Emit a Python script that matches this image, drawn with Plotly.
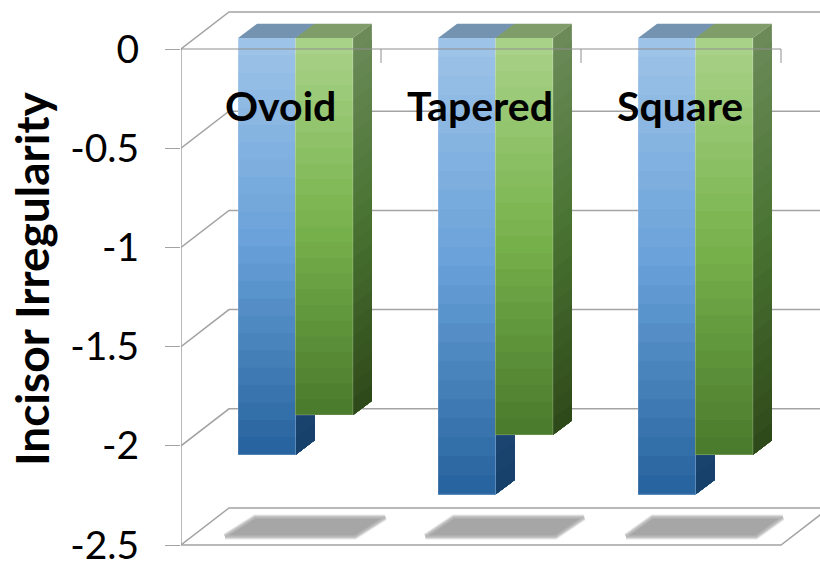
import plotly.graph_objects as go

# Incisor irregularity by arch form, two series per category
categories = ["Ovoid", "Tapered", "Square"]
series_a = [-2.1, -2.3, -2.3]
series_b = [-1.9, -2.0, -2.1]
y_ticks = [0, -0.5, -1, -1.5, -2, -2.5]
y_tick_labels = ["0", "-0.5", "-1", "-1.5", "-2", "-2.5"]

# Fake-3D projection, in axis units
PX_X, PX_Y = 200.0, 198.4
WALL_DX, WALL_DY = 48 / PX_X, 37 / PX_Y
BAR_DX, BAR_DY = 19 / PX_X, 14.3 / PX_Y
BAR_TOP = 11 / PX_Y
BAR_W = 57.4 / PX_X
GROUP_SHIFT = 14.5 / PX_X
BANDS = 24

BLUE = dict(front=["#9dc3e8", "#68a1d8", "#28649f"],
            side=["#3f6a96", "#2f5f8e", "#17406a"], top="#7493b1")
GREEN = dict(front=["#a8d288", "#78b24c", "#4b7b2d"],
             side=["#6b8a58", "#497332", "#2f4a1a"], top="#7e9d69")

GRID = "#a3a3a3"
FRONT = "#8f8f8f"


def mix(stops, t):
    # piecewise colour between three stops, mid stop at t = 0.5
    a, b, u = (stops[0], stops[1], t * 2) if t < 0.5 else (stops[1], stops[2], t * 2 - 1)
    pa = [int(a[i:i + 2], 16) for i in (1, 3, 5)]
    pb = [int(b[i:i + 2], 16) for i in (1, 3, 5)]
    return "rgb(%d,%d,%d)" % tuple(round(p + (q - p) * u) for p, q in zip(pa, pb))


fig = go.Figure()


def poly(xs, ys, color, line=None, width=0):
    fig.add_trace(go.Scatter(
        x=xs + xs[:1], y=ys + ys[:1], mode="lines", fill="toself", fillcolor=color,
        line=dict(color=line or color, width=width), hoverinfo="skip", showlegend=False,
    ))


def path(xs, ys, color, width):
    fig.add_trace(go.Scatter(
        x=xs, y=ys, mode="lines", line=dict(color=color, width=width),
        hoverinfo="skip", showlegend=False,
    ))


def bar3d(left, value, style):
    right = left + BAR_W
    y0 = BAR_TOP
    y1 = BAR_TOP + value
    # top face
    poly([left, left + BAR_DX, right + BAR_DX, right],
         [y0, y0 + BAR_DY, y0 + BAR_DY, y0], style["top"])
    # each band runs to the bar's foot, later bands paint over it
    for k in range(BANDS):
        t = k / (BANDS - 1)
        y = y0 + value * k / BANDS
        poly([right, right + BAR_DX, right + BAR_DX, right],
             [y, y + BAR_DY, y1 + BAR_DY, y1], mix(style["side"], t))
    for k in range(BANDS):
        t = k / (BANDS - 1)
        y = y0 + value * k / BANDS
        poly([left, right, right, left], [y, y, y1, y1], mix(style["front"], t))
    # faint light rim on the front face
    path([left, left, right, right], [y0, y1, y1, y0], "rgba(255,255,255,0.22)", 1)


# Back wall and side wall gridlines
n = len(categories)
x_max = (820 - 181) / PX_X
for tick in y_ticks:
    path([0, WALL_DX, x_max], [tick, tick + WALL_DY, tick + WALL_DY], GRID, 1.5)

# Front-left upright, floor front edge and right edge
path([0, 0], [y_ticks[0], y_ticks[-1]], GRID, 1.5)
path([0, n, n + WALL_DX], [y_ticks[-1], y_ticks[-1], y_ticks[-1] + WALL_DY], GRID, 1.5)

# Soft floor shadows under each group
for i in range(n):
    c = i + 0.5
    skew = (30 - 1.75 * i) / PX_X
    half = 65 / PX_X
    bx = c + (9 + 0.5 * i) / PX_X
    sy_hi, sy_lo = y_ticks[-1] + 27.5 / PX_Y, y_ticks[-1] + 8.5 / PX_Y
    xs = [bx - half, bx + half, bx + half + skew, bx - half + skew]
    ys = [sy_lo, sy_lo, sy_hi, sy_hi]
    poly(xs, ys, "#e9e9e9", "#e9e9e9", 6)
    poly(xs, ys, "#cfcfcf", "#cfcfcf", 4)
    poly(xs, ys, "#a6a6a6", "#b8b8b8", 2)

# Bars
for i in range(n):
    c = i + 0.5 + GROUP_SHIFT
    bar3d(c - BAR_W, series_a[i], BLUE)
    bar3d(c, series_b[i], GREEN)

# Front top edge with its downward category ticks, on top of the bars
tick_depth = 14 / PX_Y
path([0, n], [0, 0], FRONT, 1)
for i in range(1, n + 1):
    path([i, i], [0, -tick_depth], FRONT, 1)

fig.update_layout(
    width=820, height=566,
    margin=dict(l=181, r=0, t=0, b=0),
    paper_bgcolor="white", plot_bgcolor="white",
    showlegend=False,
    font=dict(family="Lato", color="black"),
    annotations=[
        dict(x=i + 0.495, y=-0.285, xref="x", yref="y", text=f"<b>{name}</b>",
             showarrow=False, font=dict(family="Lato", size=41, color="black"))
        for i, name in enumerate(categories)
    ] + [
        dict(x=-150 / 639, y=0.507, xref="paper", yref="paper", xanchor="center", yanchor="middle",
             text="<b>Incisor Irregularity</b>", textangle=-90, showarrow=False,
             font=dict(family="Lato", size=46, color="black"))
    ],
)
fig.update_xaxes(range=[0, x_max], visible=False, fixedrange=True)
fig.update_yaxes(
    range=[-(566 - 49) / PX_Y, 49 / PX_Y],
    autorange=False,
    tickmode="array", tickvals=y_ticks, ticktext=y_tick_labels,
    showgrid=False, zeroline=False,
    showline=False,
    ticks="outside", ticklen=15, tickwidth=1, tickcolor=GRID,
    ticklabelstandoff=18,
    ticklabeloverflow="allow",
    tickfont=dict(family="Lato", size=39, color="black"),
    fixedrange=True,
)

fig.write_html("out.html")
